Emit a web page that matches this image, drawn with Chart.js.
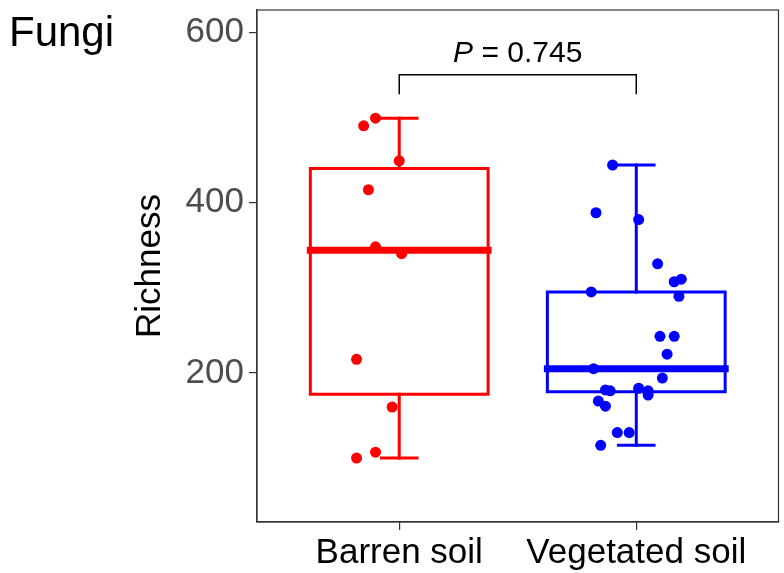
<!DOCTYPE html>
<html>
<head>
<meta charset="utf-8">
<title>Fungi richness</title>
<script src="https://cdn.jsdelivr.net/npm/chart.js@4.4.1/dist/chart.umd.min.js"></script>
<style>
  body { margin: 0; background: #fff; }
  #wrap { width: 784px; height: 573px; }
</style>
</head>
<body>
<div id="wrap"><canvas id="chart" width="784" height="573"></canvas></div>
<script>
// categories + colours
const groups = ["Barren soil", "Vegetated soil"];
const groupColors = ["#ff0000", "#0000ff"];

// box stats: [whisker low, q1, median, q3, whisker high]
const barrenBox = [100, 175, 344, 440, 499];
const vegetatedBox = [115, 178, 205, 295, 444];

// raw samples (richness) and their jitter offset from the category centre
const barrenValues = [499, 490, 449, 415, 348, 340, 216, 160, 107, 100];
const barrenJitter = [-0.10, -0.15, 0.00, -0.13, -0.10, 0.01, -0.18, -0.03, -0.10, -0.18];

const vegetatedValues = [444, 388, 380, 328, 310, 307, 295, 290, 243, 243, 222, 205,
  194, 182, 180, 179, 179, 174, 167, 161, 130, 130, 115];
const vegetatedJitter = [-0.10, -0.17, 0.01, 0.09, 0.19, 0.16, -0.19, 0.18, 0.10, 0.16, 0.13, -0.18,
  0.11, 0.01, -0.13, -0.11, 0.05, 0.05, -0.16, -0.13, -0.08, -0.03, -0.15];

const yTicks = [200, 400, 600];

// significance bracket
const bracketTop = 550;
const bracketFoot = 528;
const pLabel = "0.745";

const BOX_W = 0.75;
const CAP_W = 0.15;
const FONT = "'Liberation Sans', Arial, sans-serif";

function seg(points, color, width, order) {
  return {
    type: "scatter",
    data: points.map(p => ({ x: p[0], y: p[1] })),
    showLine: true,
    borderColor: color,
    borderWidth: width,
    borderCapStyle: "square",
    borderJoinStyle: "miter",
    pointRadius: 0,
    pointHoverRadius: 0,
    fill: false,
    tension: 0,
    order: order
  };
}

function boxDatasets(center, stats, color) {
  const [lo, q1, med, q3, hi] = stats;
  const l = center - BOX_W / 2, r = center + BOX_W / 2;
  return [
    seg([[l, q1], [r, q1], [r, q3], [l, q3], [l, q1]], color, 3, 2),
    seg([[l, med], [r, med]], color, 7, 2),
    seg([[center, q3], [center, hi]], color, 3, 2),
    seg([[center, q1], [center, lo]], color, 3, 2),
    seg([[center - CAP_W / 2, hi], [center + CAP_W / 2, hi]], color, 3, 2),
    seg([[center - CAP_W / 2, lo], [center + CAP_W / 2, lo]], color, 3, 2)
  ];
}

function pointDataset(center, values, jitter, color) {
  return {
    type: "scatter",
    data: values.map((v, i) => ({ x: center + jitter[i], y: v })),
    backgroundColor: color,
    borderWidth: 0,
    pointRadius: 5.5,
    pointHoverRadius: 5.5,
    order: 0
  };
}

const datasets = [
  pointDataset(1, barrenValues, barrenJitter, groupColors[0]),
  pointDataset(2, vegetatedValues, vegetatedJitter, groupColors[1]),
  ...boxDatasets(1, barrenBox, groupColors[0]),
  ...boxDatasets(2, vegetatedBox, groupColors[1]),
  seg([[1, bracketFoot], [1, bracketTop], [2, bracketTop], [2, bracketFoot]], "#000", 1.5, 1)
];

// panel frame, P value and panel tag
const extras = {
  id: "extras",
  afterDraw(chart) {
    const { ctx, chartArea, scales } = chart;
    ctx.save();
    ctx.strokeStyle = "#333";
    ctx.lineWidth = 1.2;
    ctx.strokeRect(chartArea.left, chartArea.top, chartArea.right - chartArea.left, chartArea.bottom - chartArea.top);

    // P = 0.745
    const cx = (scales.x.getPixelForValue(1) + scales.x.getPixelForValue(2)) / 2;
    const ty = scales.y.getPixelForValue(bracketTop) - 13;
    ctx.fillStyle = "#000";
    ctx.textBaseline = "alphabetic";
    ctx.font = "italic 30px " + FONT;
    const pW = ctx.measureText("P").width;
    ctx.font = "30px " + FONT;
    const rest = " = " + pLabel;
    const rW = ctx.measureText(rest).width;
    let x0 = cx - (pW + rW) / 2;
    ctx.textAlign = "left";
    ctx.font = "italic 30px " + FONT;
    ctx.fillText("P", x0, ty);
    ctx.font = "30px " + FONT;
    ctx.fillText(rest, x0 + pW, ty);

    // panel tag
    ctx.font = "42px " + FONT;
    ctx.fillText("Fungi", 9, 46);
    ctx.restore();
  }
};

new Chart(document.getElementById("chart"), {
  type: "scatter",
  data: { datasets: datasets },
  options: {
    responsive: false,
    animation: false,
    events: [],
    layout: { padding: { top: 10, right: -3, left: 0, bottom: 0 } },
    plugins: { legend: { display: false }, tooltip: { enabled: false } },
    scales: {
      x: {
        type: "linear",
        min: 0.4,
        max: 2.6,
        afterBuildTicks: scale => { scale.ticks = [{ value: 1 }, { value: 2 }]; },
        afterFit: scale => {
          scale.height = 51;
          scale.paddingLeft = 0;
          scale.paddingRight = 0;
        },
        ticks: {
          callback: v => groups[v - 1],
          color: "#000",
          font: { family: FONT, size: 35 },
          padding: 2,
          maxRotation: 0
        },
        grid: { drawOnChartArea: false, tickLength: 8, color: "#333", lineWidth: 1.2 },
        border: { color: "#333", width: 1.2 }
      },
      y: {
        min: 25,
        max: 626,
        afterBuildTicks: scale => { scale.ticks = yTicks.map(v => ({ value: v })); },
        afterFit: scale => {
          scale.width = 257;
          scale.paddingTop = 0;
          scale.paddingBottom = 0;
        },
        ticks: {
          color: "#4d4d4d",
          font: { family: FONT, size: 35 },
          padding: 5
        },
        title: {
          display: true,
          text: "Richness",
          color: "#000",
          font: { family: FONT, size: 35 },
          padding: { top: 129, bottom: 0 }
        },
        grid: { drawOnChartArea: false, tickLength: 8, color: "#333", lineWidth: 1.2 },
        border: { color: "#333", width: 1.2 }
      }
    }
  },
  plugins: [extras]
});
</script>
</body>
</html>
